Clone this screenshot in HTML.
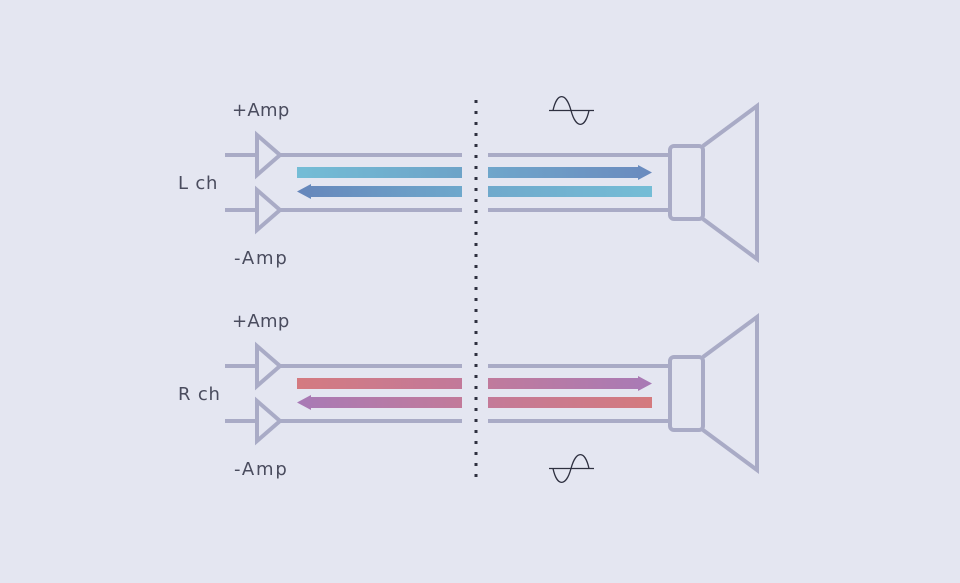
<!DOCTYPE html>
<html><head><meta charset="utf-8"><style>
html,body{margin:0;padding:0;background:#e4e6f1;}
svg{display:block;}
text{font-family:"DejaVu Sans","Liberation Sans",sans-serif;font-size:18px;fill:#4a4c5e;}
.p{letter-spacing:0.3px;}
.m{letter-spacing:1.8px;}
.c{letter-spacing:0.8px;}
</style></head><body>
<svg width="960" height="583" viewBox="0 0 960 583" xmlns="http://www.w3.org/2000/svg">
<defs>
<linearGradient id="lA" x1="0" x2="1"><stop offset="0" stop-color="#74bdd6"/><stop offset="1" stop-color="#6da3c8"/></linearGradient>
<linearGradient id="lB" x1="0" x2="1"><stop offset="0" stop-color="#6686bb"/><stop offset="1" stop-color="#6ea8cc"/></linearGradient>
<linearGradient id="lC" x1="0" x2="1"><stop offset="0" stop-color="#6fa6cb"/><stop offset="1" stop-color="#6a8abe"/></linearGradient>
<linearGradient id="lD" x1="0" x2="1"><stop offset="0" stop-color="#6fa9cc"/><stop offset="1" stop-color="#74bdd6"/></linearGradient>
<linearGradient id="rA" x1="0" x2="1"><stop offset="0" stop-color="#d47a80"/><stop offset="1" stop-color="#c2799a"/></linearGradient>
<linearGradient id="rB" x1="0" x2="1"><stop offset="0" stop-color="#a87ab6"/><stop offset="1" stop-color="#c27a9a"/></linearGradient>
<linearGradient id="rC" x1="0" x2="1"><stop offset="0" stop-color="#c07a9c"/><stop offset="1" stop-color="#a87ab6"/></linearGradient>
<linearGradient id="rD" x1="0" x2="1"><stop offset="0" stop-color="#c47a98"/><stop offset="1" stop-color="#d47a7e"/></linearGradient>
</defs>

<g id="L">
<g fill="none" stroke="#a9abc6" stroke-width="4">
<line x1="225" y1="155" x2="256" y2="155"/>
<polygon points="257,135 280,155 257,175"/>
<line x1="280" y1="155" x2="462" y2="155"/>
<line x1="225" y1="210" x2="256" y2="210"/>
<polygon points="257,190 280,210 257,230"/>
<line x1="280" y1="210" x2="462" y2="210"/>
<line x1="488" y1="155" x2="670" y2="155"/>
<line x1="488" y1="210" x2="670" y2="210"/>
<rect x="670" y="146" width="33" height="73" rx="4"/>
<polyline points="703,146 757,106 757,259 703,219"/>
</g>
<rect x="297" y="167" width="165" height="11" fill="url(#lA)"/>
<polygon points="297,191.5 311,184 311,186 462,186 462,197 311,197 311,199" fill="url(#lB)"/>
<polygon points="488,167 638,167 638,165 652,172.5 638,180 638,178 488,178" fill="url(#lC)"/>
<rect x="488" y="186" width="164" height="11" fill="url(#lD)"/>
<text class="p" x="232" y="116">+Amp</text>
<text class="c" x="178" y="189">L ch</text>
<text class="m" x="234" y="264">-Amp</text>
<line x1="549" y1="110.5" x2="594" y2="110.5" stroke="#2e3040" stroke-width="1.2"/>
<path d="M553,110.5 C557,92 566,92 571,110.5 C576,129 585,129 589,110.5" fill="none" stroke="#2e3040" stroke-width="1.3"/>
</g>

<g transform="translate(0,211)">
<g fill="none" stroke="#a9abc6" stroke-width="4">
<line x1="225" y1="155" x2="256" y2="155"/>
<polygon points="257,135 280,155 257,175"/>
<line x1="280" y1="155" x2="462" y2="155"/>
<line x1="225" y1="210" x2="256" y2="210"/>
<polygon points="257,190 280,210 257,230"/>
<line x1="280" y1="210" x2="462" y2="210"/>
<line x1="488" y1="155" x2="670" y2="155"/>
<line x1="488" y1="210" x2="670" y2="210"/>
<rect x="670" y="146" width="33" height="73" rx="4"/>
<polyline points="703,146 757,106 757,259 703,219"/>
</g>
<rect x="297" y="167" width="165" height="11" fill="url(#rA)"/>
<polygon points="297,191.5 311,184 311,186 462,186 462,197 311,197 311,199" fill="url(#rB)"/>
<polygon points="488,167 638,167 638,165 652,172.5 638,180 638,178 488,178" fill="url(#rC)"/>
<rect x="488" y="186" width="164" height="11" fill="url(#rD)"/>
<text class="p" x="232" y="116">+Amp</text>
<text class="c" x="178" y="189">R ch</text>
<text class="m" x="234" y="264">-Amp</text>
</g>

<line x1="549" y1="468.5" x2="594" y2="468.5" stroke="#2e3040" stroke-width="1.2"/>
<path d="M553,468.5 C557,487 566,487 571,468.5 C576,450 585,450 589,468.5" fill="none" stroke="#2e3040" stroke-width="1.3"/>

<line x1="476" y1="100" x2="476" y2="480" stroke="#2e3040" stroke-width="3" stroke-dasharray="3 8"/>
</svg>
</body></html>
